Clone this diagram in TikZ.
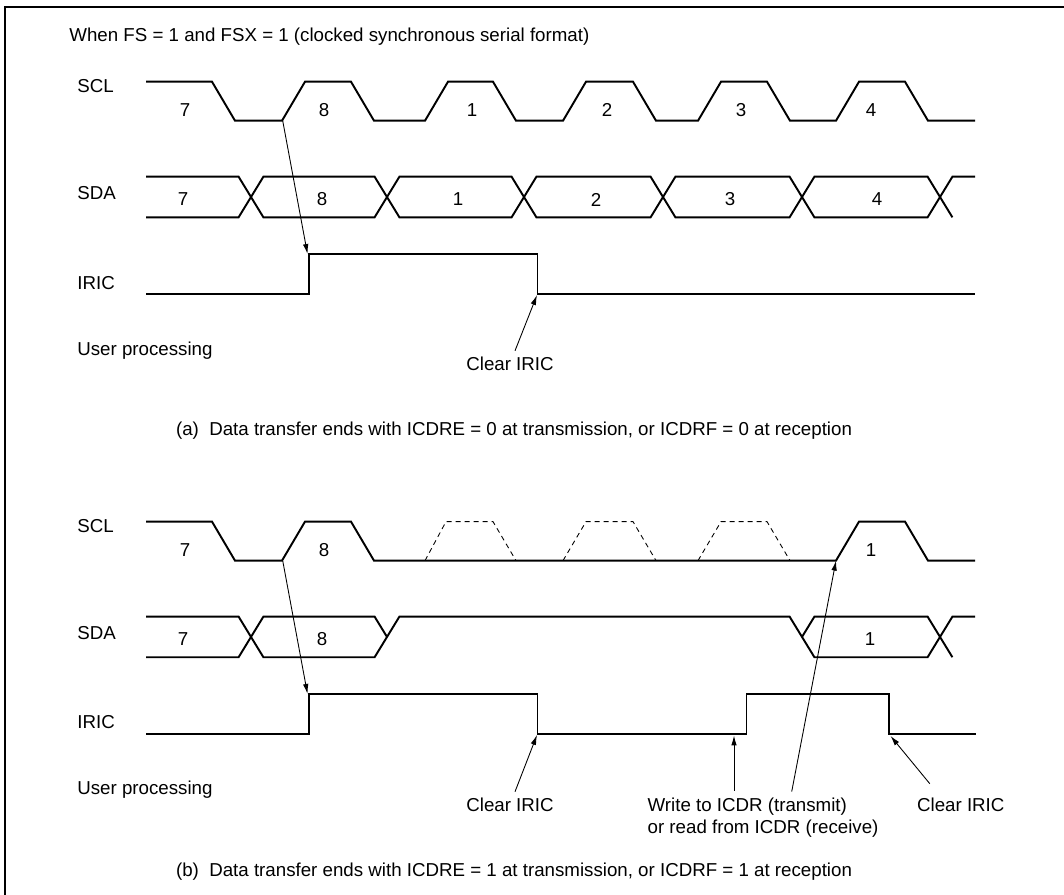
\documentclass[tikz,border=0pt]{standalone}
\usepackage{fontspec}
\setmainfont{Liberation Sans}
\usetikzlibrary{arrows.meta, positioning, calc}

\begin{document}
\begin{tikzpicture}[
    x=0.02cm, y=-0.02cm,
    every node/.style={font=\fontsize{10.65}{12.2}\selectfont, inner sep=0pt},
    wave/.style={line width=1.1pt},
    ghost/.style={line width=0.5pt, dash pattern=on 1mm off 0.8mm},
    sig/.style={anchor=base west},
    bitno/.style={anchor=center},
    note/.style={anchor=base},
    arrow/.style={-{Latex[length=2mm, width=1.1mm]}, line width=0.5pt},
    frame/.style={line width=1.1pt}
]
    \useasboundingbox (0,0) rectangle (1064,894);
    \draw[frame] (5,900) -- (5,6.7) -- (1070,6.7);

    % Part (a)
    \node[sig] (title) at (69,41.7) {When FS = 1 and FSX = 1 (clocked synchronous serial format)};
    \node[sig] (scla) at (77,92.7) {SCL};
    \node[sig] (sdaa) at (77,199.3) {SDA};
    \node[sig] (irica) at (77,289) {IRIC};
    \node[sig] (usera) at (77,355) {User processing};

    \draw[wave] (146,81.7) -- (212,81.7) -- (235,120.7) -- (282,120.7) -- (305,81.7) -- (351,81.7)
        -- (374,120.7) -- (425,120.7) -- (448,81.7) -- (493,81.7) -- (516,120.7) -- (563,120.7)
        -- (586,81.7) -- (633,81.7) -- (656,120.7) -- (698,120.7) -- (721,81.7) -- (767,81.7)
        -- (790,120.7) -- (836,120.7) -- (859,81.7) -- (905,81.7) -- (928,120.7) -- (975,120.7);
    \draw[wave] (146,176.7) -- (238.6,176.7) -- (263.4,217.3) -- (374.6,217.3) -- (399.4,176.7)
        -- (511.6,176.7) -- (536.4,217.3) -- (650.6,217.3) -- (675.4,176.7) -- (789.6,176.7)
        -- (814.4,217.3) -- (927.6,217.3) -- (952.4,176.7) -- (975,176.7);
    \draw[wave] (146,217.3) -- (238.6,217.3) -- (263.4,176.7) -- (374.6,176.7) -- (399.4,217.3)
        -- (511.6,217.3) -- (536.4,176.7) -- (650.6,176.7) -- (675.4,217.3) -- (789.6,217.3)
        -- (814.4,176.7) -- (927.6,176.7) -- (952.4,217.3);
    \draw[wave] (146,294) -- (309,294) -- (309,254) -- (537.5,254) -- (537.5,294) -- (975,294);

    \node[bitno] (c7a) at (185,110) {7};
    \node[bitno] (c8a) at (324,110) {8};
    \node[bitno] (c1a) at (472,110) {1};
    \node[bitno] (c2a) at (607,110) {2};
    \node[bitno] (c3a) at (741,110) {3};
    \node[bitno] (c4a) at (871,110) {4};
    \node[bitno] (d7a) at (183,199.5) {7};
    \node[bitno] (d8a) at (322,199.5) {8};
    \node[bitno] (d1a) at (458,199.5) {1};
    \node[bitno] (d2a) at (596,199.5) {2};
    \node[bitno] (d3a) at (730,199.5) {3};
    \node[bitno] (d4a) at (877,199.5) {4};

    \coordinate (rise8a) at (282.7,120.7);
    \coordinate (setira) at (307.5,254);
    \coordinate (clrira) at (537,295);
    \node[note] (clra) at (510,370.7) {Clear IRIC};
    \draw[arrow] (rise8a) -- (setira);
    \draw[arrow] ([shift={(5,-6)}]clra.north) -- (clrira);

    \node[sig] (capa) at (175.7,435) {(a)\ \ Data transfer ends with ICDRE = 0 at transmission, or ICDRF = 0 at reception};

    % Part (b)
    \begin{scope}[yshift=-8.8cm]
    \node[sig] (sclb) at (77,92.7) {SCL};
    \node[sig] (sdab) at (77,199.3) {SDA};
    \node[sig] (iricb) at (77,289) {IRIC};
    \node[sig] (userb) at (77,355) {User processing};

    \draw[wave] (146,81.7) -- (212,81.7) -- (235,120.7) -- (282,120.7) -- (305,81.7) -- (351,81.7)
        -- (374,120.7) -- (836,120.7) -- (859,81.7) -- (905,81.7) -- (928,120.7) -- (975,120.7);
    \draw[ghost] (425,120.7) -- (446,81.7) -- (493,81.7) -- (516,120.7);
    \draw[ghost] (563,120.7) -- (586,81.7) -- (633,81.7) -- (656,120.7);
    \draw[ghost] (698,120.7) -- (721,81.7) -- (767,81.7) -- (790,120.7);
    \draw[wave] (146,176.7) -- (238.6,176.7) -- (263.4,217.3) -- (374.6,217.3) -- (399.4,176.7)
        -- (789.6,176.7) -- (814.4,217.3) -- (927.6,217.3) -- (952.4,176.7) -- (975,176.7);
    \draw[wave] (146,217.3) -- (238.6,217.3) -- (263.4,176.7) -- (374.6,176.7) -- (387,197);
    \draw[wave] (802,197) -- (814.4,176.7) -- (927.6,176.7) -- (952.4,217.3);
    \draw[wave] (146,294) -- (309,294) -- (309,254) -- (537.5,254) -- (537.5,294) -- (746.5,294)
        -- (746.5,254) -- (889,254) -- (889,294) -- (976,294);

    \node[bitno] (c7b) at (185,110) {7};
    \node[bitno] (c8b) at (324,110) {8};
    \node[bitno] (c1b) at (871,110) {1};
    \node[bitno] (d7b) at (183,199.5) {7};
    \node[bitno] (d8b) at (322,199.5) {8};
    \node[bitno] (d1b) at (870,199.5) {1};

    \coordinate (rise8b) at (282.7,120.7);
    \coordinate (rise1b) at (836,120.7);
    \coordinate (setirb) at (307.5,254);
    \coordinate (clrirb) at (537,295);
    \coordinate (wrirb) at (734,295.5);
    \coordinate (clrirc) at (890.5,296);
    \node[note] (clrb) at (510,371.7) {Clear IRIC};
    \node[sig, align=left] (wrb) at (647.3,393.3) {Write to ICDR (transmit)\\or read from ICDR (receive)};
    \node[note] (clrc) at (960.8,371.7) {Clear IRIC};
    \draw[arrow] (rise8b) -- (setirb);
    \draw[arrow] ([shift={(5,-6)}]clrb.north) -- (clrirb);
    \draw[arrow] (wrirb |- 0,350.7) -- (wrirb);
    \draw[arrow] (791.7,351.7) -- (rise1b);
    \draw[arrow] ([shift={(-31,-14)}]clrc.north) -- (clrirc);

    \node[sig] (capb) at (175.7,436.7) {(b)\ \ Data transfer ends with ICDRE = 1 at transmission, or ICDRF = 1 at reception};
    \end{scope}
\end{tikzpicture}
\end{document}
